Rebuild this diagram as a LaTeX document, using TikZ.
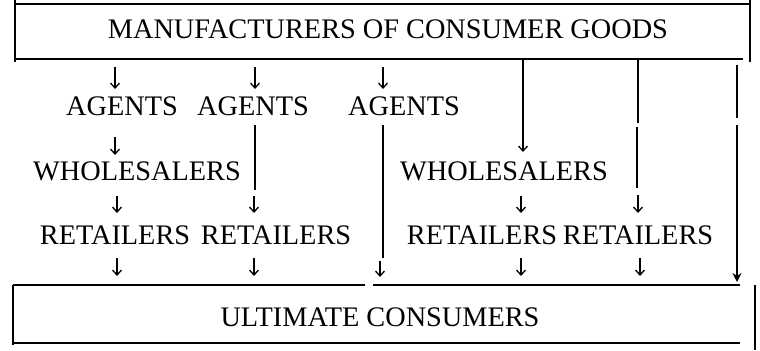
\documentclass[tikz,border=0pt]{standalone}
\usepackage{fontspec}
\setmainfont{Liberation Serif}
\usetikzlibrary{arrows.meta}
\begin{document}
\begin{tikzpicture}[x=1bp,y=-1bp,
  lbl/.style={font=\fontsize{28.3bp}{30bp}\selectfont, anchor=base, inner sep=0pt},
  frame/.style={line width=1.3bp},
  ln/.style={line width=1.2bp},
  arr/.style={line width=1.2bp,-{Straight Barb[length=5bp,width=9bp,line width=1.3bp]}},
  boldarr/.style={line width=1.8bp,-{Stealth[length=9bp,width=9bp]}}]
\useasboundingbox (0,0) rectangle (760,350);
% boxes
\coordinate (t1) at (15,0);  \coordinate (t2) at (15,62);
\coordinate (t3) at (15,4);  \coordinate (t4) at (750,4);
\coordinate (t5) at (15,59); \coordinate (t6) at (743,59);
\coordinate (t7) at (750,0); \coordinate (t8) at (750,62);
\draw[frame] (t1) -- (t2); \draw[frame] (t3) -- (t4);
\draw[frame] (t5) -- (t6); \draw[frame] (t7) -- (t8);
\coordinate (b1) at (13,285); \coordinate (b2) at (13,345);
\coordinate (b3) at (13,285); \coordinate (b4) at (365,285);
\coordinate (b5) at (373,285); \coordinate (b6) at (740,285);
\coordinate (b7) at (13,343); \coordinate (b8) at (740,343);
\coordinate (b9) at (755,285); \coordinate (b10) at (755,350);
\draw[frame] (b1) -- (b2); \draw[frame] (b3) -- (b4);
\draw[frame] (b5) -- (b6); \draw[frame] (b7) -- (b8);
\draw[frame] (b9) -- (b10);
% labels
\node[lbl] (man) at (388,38) {MANUFACTURERS OF CONSUMER GOODS};
\node[lbl] (ag1) at (122,115) {AGENTS};
\node[lbl] (ag2) at (253,115) {AGENTS};
\node[lbl] (ag3) at (404,115) {AGENTS};
\node[lbl] (wh1) at (137,180) {WHOLESALERS};
\node[lbl] (wh2) at (504,180) {WHOLESALERS};
\node[lbl] (re1) at (115,244) {RETAILERS};
\node[lbl] (re2) at (276,244) {RETAILERS};
\node[lbl] (re3) at (482,244) {RETAILERS};
\node[lbl] (re4) at (638,244) {RETAILERS};
\node[lbl] (ult) at (380,326) {ULTIMATE CONSUMERS};
% column 1
\coordinate (a1s) at (115,67);  \coordinate (a1e) at (115,89);
\coordinate (a2s) at (115,137); \coordinate (a2e) at (115,155);
\coordinate (a3s) at (117,196); \coordinate (a3e) at (117,213);
\coordinate (a4s) at (117,258); \coordinate (a4e) at (117,276);
\draw[arr] (a1s) -- (a1e); \draw[arr] (a2s) -- (a2e);
\draw[arr] (a3s) -- (a3e); \draw[arr] (a4s) -- (a4e);
% column 2
\coordinate (c2a) at (255,67);  \coordinate (c2b) at (255,89);
\coordinate (c2c) at (255,125); \coordinate (c2d) at (255,190);
\coordinate (c2e) at (254,196); \coordinate (c2f) at (254,213);
\coordinate (c2g) at (254,258); \coordinate (c2h) at (254,276);
\draw[arr] (c2a) -- (c2b); \draw[ln] (c2c) -- (c2d);
\draw[arr] (c2e) -- (c2f); \draw[arr] (c2g) -- (c2h);
% column 3
\coordinate (c3a) at (383,67);  \coordinate (c3b) at (383,89);
\coordinate (c3c) at (383,125); \coordinate (c3d) at (383,258);
\coordinate (c3e) at (380,261); \coordinate (c3f) at (380,277);
\draw[arr] (c3a) -- (c3b); \draw[ln] (c3c) -- (c3d);
\draw[arr] (c3e) -- (c3f);
% column 4
\coordinate (c4a) at (523,60);  \coordinate (c4b) at (523,152);
\coordinate (c4c) at (521,196); \coordinate (c4d) at (521,213);
\coordinate (c4e) at (521,258); \coordinate (c4f) at (521,276);
\draw[arr] (c4a) -- (c4b); \draw[arr] (c4c) -- (c4d);
\draw[arr] (c4e) -- (c4f);
% column 5
\coordinate (c5a) at (638,60);  \coordinate (c5b) at (638,123);
\coordinate (c5c) at (637,127); \coordinate (c5d) at (637,188);
\coordinate (c5e) at (638,195); \coordinate (c5f) at (638,213);
\coordinate (c5g) at (640,258); \coordinate (c5h) at (640,276);
\draw[ln] (c5a) -- (c5b); \draw[ln] (c5c) -- (c5d);
\draw[arr] (c5e) -- (c5f); \draw[arr] (c5g) -- (c5h);
% column 6
\coordinate (c6a) at (737,65);  \coordinate (c6b) at (737,118);
\coordinate (c6c) at (737,125); \coordinate (c6d) at (737,282);
\draw[ln] (c6a) -- (c6b); \draw[boldarr] (c6c) -- (c6d);
\end{tikzpicture}
\end{document}
